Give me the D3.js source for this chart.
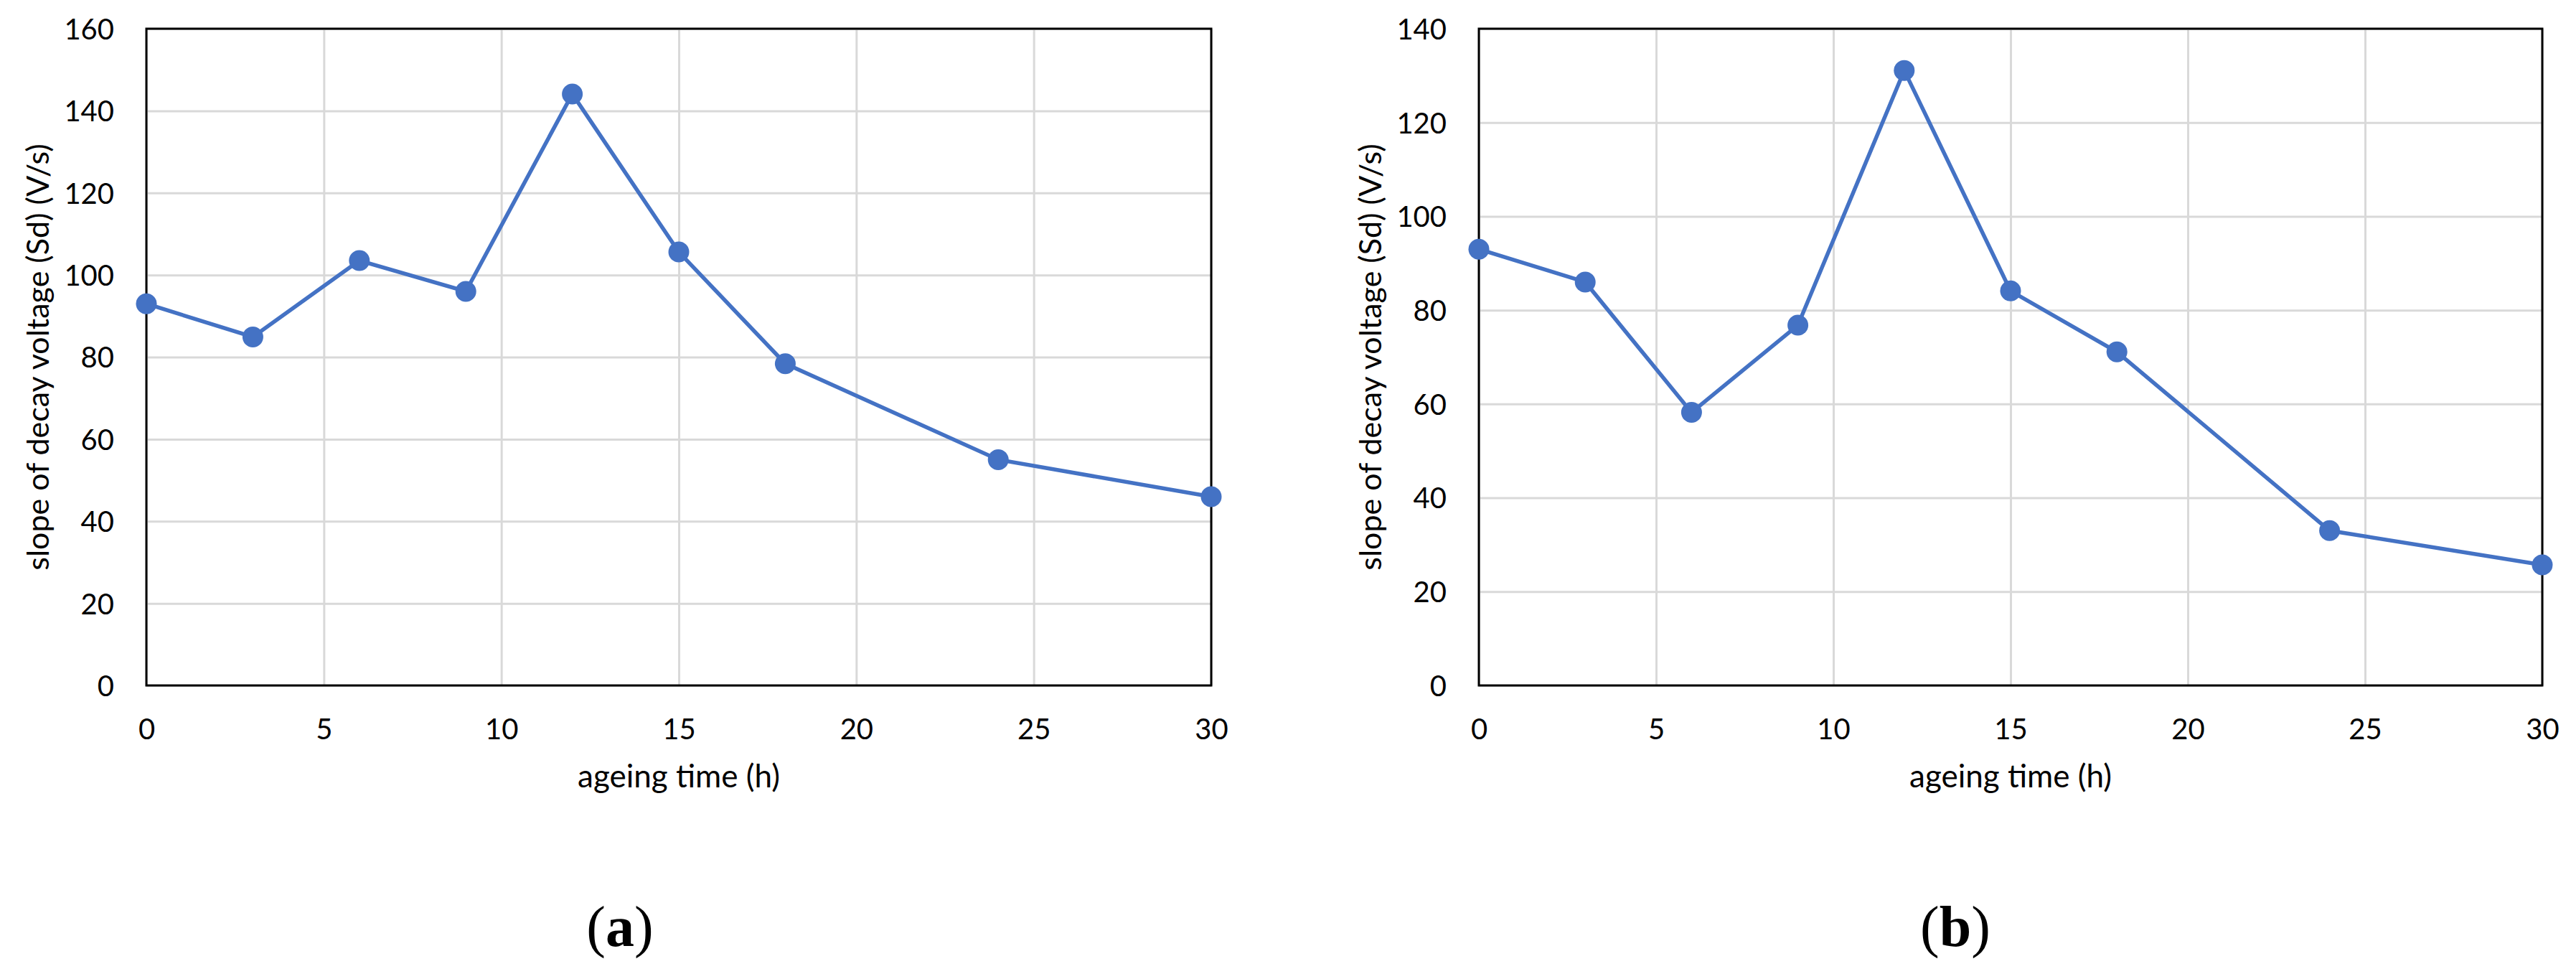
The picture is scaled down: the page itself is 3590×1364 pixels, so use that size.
<!DOCTYPE html>
<html>
<head>
<meta charset="utf-8">
<script src="https://cdn.jsdelivr.net/npm/d3@7"></script>
<style>
  body { margin: 0; background: #fff; }
  .tick text { font-family: Lato, sans-serif; font-size: 40px; fill: #000; }
  .grid line { stroke: #d9d9d9; stroke-width: 3; }
</style>
</head>
<body>
<script>
// ageing time (h) and slope of decay voltage (V/s)
var ageingTime = [0, 3, 6, 9, 12, 15, 18, 24, 30];
var slopeA = [93.0, 84.9, 103.5, 96.0, 144.1, 105.6, 78.4, 55.0, 46.0];
var slopeB = [93.0, 86.0, 58.2, 76.8, 131.1, 84.1, 71.1, 33.0, 25.7];

var xTicks = [0, 5, 10, 15, 20, 25, 30];
var yTicksA = [0, 20, 40, 60, 80, 100, 120, 140, 160];
var yTicksB = [0, 20, 40, 60, 80, 100, 120, 140];

var panelLabels = ["a", "b"];

//Width and height
var w = 3590;
var h = 1364;

var svg = d3.select("body")
            .append("svg")
            .attr("width", w)
            .attr("height", h);

svg.append("rect").attr("width", w).attr("height", h).attr("fill", "#fff");

function drawChart(left, right, values, yTicks, label, labelX) {
    var top = 40, bottom = 955;

    var x = d3.scaleLinear().domain([0, 30]).range([left, right]);
    var y = d3.scaleLinear().domain([0, d3.max(yTicks)]).range([bottom, top]);

    var g = svg.append("g");

    //horizontal grid + y tick labels
    g.append("g")
     .attr("class", "grid")
     .attr("transform", "translate(" + left + ",0)")
     .call(d3.axisLeft(y).tickValues(yTicks).tickSize(-(right - left)).tickPadding(45))
     .call(function(s) { s.select(".domain").remove(); })
     .selectAll("text").attr("dy", "0.36em");

    //vertical grid + x tick labels
    g.append("g")
     .attr("class", "grid")
     .attr("transform", "translate(0," + bottom + ")")
     .call(d3.axisBottom(x).tickValues(xTicks).tickSize(-(bottom - top)).tickPadding(47))
     .call(function(s) { s.select(".domain").remove(); });

    //plot border
    g.append("rect")
     .attr("x", left).attr("y", top)
     .attr("width", right - left).attr("height", bottom - top)
     .attr("fill", "none").attr("stroke", "#000").attr("stroke-width", 3);

    var line = d3.line()
                 .x(function(d, i) { return x(ageingTime[i]); })
                 .y(function(d) { return y(d); });

    g.append("path")
     .datum(values)
     .attr("d", line)
     .attr("fill", "none")
     .attr("stroke", "#4472c4")
     .attr("stroke-width", 5.5);

    g.selectAll("circle")
     .data(values)
     .enter()
     .append("circle")
     .attr("cx", function(d, i) { return x(ageingTime[i]); })
     .attr("cy", function(d) { return y(d); })
     .attr("r", 14.5)
     .attr("fill", "#4472c4");

    //axis titles
    g.append("text")
     .attr("x", (left + right) / 2)
     .attr("y", 1097)
     .attr("text-anchor", "middle")
     .style("font-family", "Lato, sans-serif")
     .style("font-size", "44px")
     .text("ageing time (h)");

    g.append("text")
     .attr("transform", "translate(" + (left - 136) + "," + (top + bottom) / 2 + ") rotate(-90)")
     .attr("text-anchor", "middle")
     .style("font-family", "Lato, sans-serif")
     .style("font-size", "43px")
     .text("slope of decay voltage (Sd) (V/s)");

    //panel label
    var t = g.append("text")
     .attr("x", labelX)
     .attr("y", 1318)
     .attr("text-anchor", "middle")
     .style("font-family", "'Liberation Serif', serif")
     .style("font-size", "80px");
    t.append("tspan").text("(");
    t.append("tspan").style("font-weight", "bold").text(label);
    t.append("tspan").text(")");
}

drawChart(204, 1688, slopeA, yTicksA, panelLabels[0], 864);
drawChart(2061, 3543, slopeB, yTicksB, panelLabels[1], 2725);
</script>
</body>
</html>
